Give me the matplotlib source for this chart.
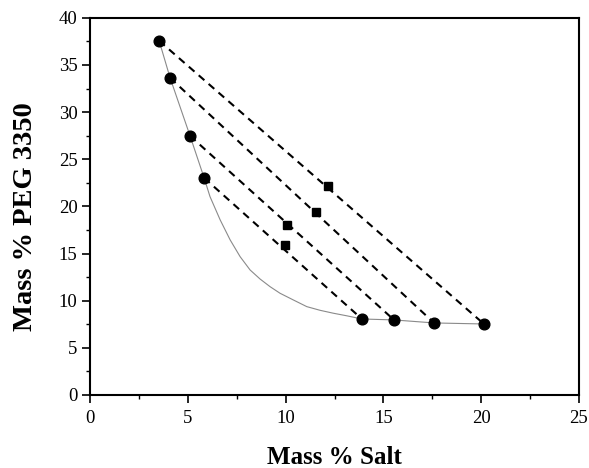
import matplotlib
matplotlib.use("Agg")
import matplotlib.pyplot as plt
from matplotlib.ticker import MultipleLocator

plt.rcParams['font.family'] = ['Liberation Serif', 'DejaVu Serif']

# binodal curve
curve_salt = [3.53, 4.09, 5.11, 5.83, 6.13, 6.65, 7.16, 7.67, 8.18, 8.69, 9.2, 9.71,
              10.39, 11.08, 11.76, 12.44, 13.12, 13.9, 15.54, 17.59, 20.14]
curve_peg = [37.56, 33.63, 27.48, 23.02, 21.04, 18.57, 16.45, 14.67, 13.26, 12.3, 11.49, 10.79,
             10.08, 9.37, 8.98, 8.67, 8.4, 8.06, 7.96, 7.64, 7.53]

# tie line ends: top phase and bottom phase
top_salt = [3.53, 4.09, 5.11, 5.83]
top_peg = [37.56, 33.63, 27.48, 23.02]
bot_salt = [20.14, 17.59, 15.54, 13.9]
bot_peg = [7.53, 7.64, 7.96, 8.06]

# overall compositions
feed_salt = [12.18, 11.54, 10.09, 9.98]
feed_peg = [22.17, 19.42, 18.0, 15.88]

fig = plt.figure(figsize=(5.89, 4.68), dpi=100)
ax = fig.add_axes([0.153, 0.156, 0.830, 0.806])

ax.plot(curve_salt, curve_peg, color='#8a8a8a', lw=0.8, zorder=2)
for i in range(len(top_salt)):
    ax.plot([top_salt[i], bot_salt[i]], [top_peg[i], bot_peg[i]], color='black',
            lw=1.5, dashes=(3.6, 2.7), zorder=3)
ax.plot(top_salt + bot_salt, top_peg + bot_peg, 'o', color='black', ms=7.7, zorder=4)
ax.plot(feed_salt, feed_peg, 's', color='black', ms=5.2, zorder=4)

ax.set_xlim(0, 25)
ax.set_ylim(0, 40)
ax.xaxis.set_major_locator(MultipleLocator(5))
ax.xaxis.set_minor_locator(MultipleLocator(2.5))
ax.yaxis.set_major_locator(MultipleLocator(5))
ax.yaxis.set_minor_locator(MultipleLocator(2.5))
ax.tick_params(which='major', direction='out', length=6, width=1.2, labelsize=13.5, top=False, right=False)
ax.tick_params(axis='x', which='major', pad=5)
ax.tick_params(axis='y', which='major', pad=3)
ax.tick_params(which='minor', direction='out', length=3, width=1.0, top=False, right=False)
for s in ax.spines.values():
    s.set_linewidth(1.5)

# axis titles placed in figure coords
fig.text(0.568, 0.008, 'Mass % Salt', fontsize=18, fontweight='bold', ha='center', va='baseline')
fig.text(0.043, 0.538, 'Mass % PEG 3350', fontsize=20.5, fontweight='bold', ha='center', va='center', rotation=90)

fig.savefig('out.png', dpi=100)
